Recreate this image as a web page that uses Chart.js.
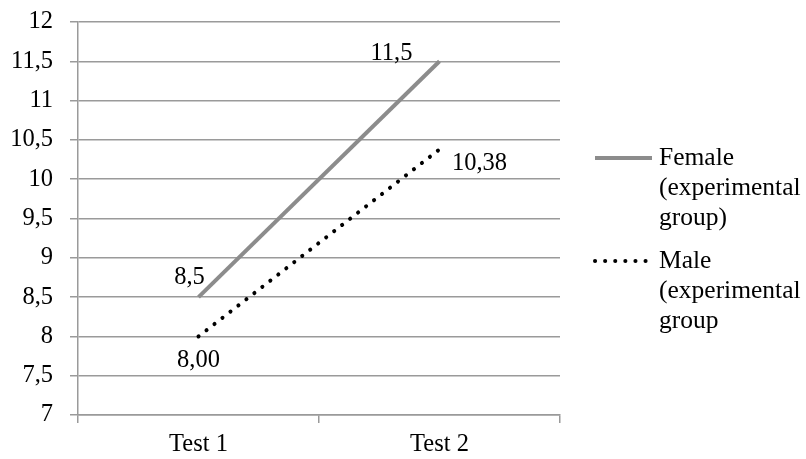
<!DOCTYPE html>
<html>
<head>
<meta charset="utf-8">
<script src="https://cdn.jsdelivr.net/npm/chart.js@4/dist/chart.umd.min.js"></script>
<style>
  html, body { margin: 0; padding: 0; background: #fff; }
  #wrap { width: 806px; height: 459px; }
</style>
</head>
<body>
<div id="wrap"><canvas id="grafico" width="806" height="459"></canvas></div>
<script>
const categorias = ['Test 1', 'Test 2'];
const female = [8.5, 11.5];
const male = [8.00, 10.38];
const nombresSeries = [
  ['Female', '(experimental', 'group)'],
  ['Male', '(experimental', 'group']
];
const yMin = 7;
const yMax = 12;
const yPaso = 0.5;

const fuente = '"Liberation Serif", "Times New Roman", serif';
const gris = '#8c8c8c';
const grisGrid = '#9a9a9a';

const conComa = (v, dec) => (dec == null ? String(v) : v.toFixed(dec)).replace('.', ',');

// etiquetas de valores junto a cada punto
const etiquetasDatos = {
  id: 'etiquetasDatos',
  afterDatasetsDraw(chart) {
    const ctx = chart.ctx;
    const offsets = [
      [[-9, -20], [-48, -8]],
      [[0, 24], [40, 14]]
    ];
    ctx.save();
    ctx.font = '24.5px ' + fuente;
    ctx.fillStyle = '#000';
    ctx.textAlign = 'center';
    ctx.textBaseline = 'middle';
    chart.data.datasets.forEach((ds, i) => {
      const meta = chart.getDatasetMeta(i);
      meta.data.forEach((pt, j) => {
        const txt = i === 0 ? conComa(ds.data[j]) : conComa(ds.data[j], 2);
        ctx.fillText(txt, pt.x + offsets[i][j][0], pt.y + offsets[i][j][1]);
      });
    });
    ctx.restore();
  }
};

// leyenda a la derecha, con texto en varias lineas
const leyenda = {
  id: 'leyenda',
  afterDraw(chart) {
    const ctx = chart.ctx;
    const x0 = 595, x1 = 652, xt = 659;
    const filas = [158, 261];
    ctx.save();
    chart.data.datasets.forEach((ds, i) => {
      const y = filas[i];
      ctx.beginPath();
      ctx.strokeStyle = ds.borderColor;
      ctx.lineWidth = ds.borderWidth;
      ctx.lineCap = i === 0 ? 'butt' : 'round';
      ctx.setLineDash(ds.borderDash || []);
      ctx.moveTo(x0, y);
      ctx.lineTo(x1, y);
      ctx.stroke();
      ctx.setLineDash([]);
      ctx.font = '25.5px ' + fuente;
      ctx.fillStyle = '#000';
      ctx.textAlign = 'left';
      ctx.textBaseline = 'middle';
      nombresSeries[i].forEach((linea, k) => {
        ctx.fillText(linea, xt, y + k * 30);
      });
    });
    ctx.restore();
  }
};

new Chart(document.getElementById('grafico').getContext('2d'), {
  type: 'line',
  data: {
    labels: categorias,
    datasets: [
      {
        label: nombresSeries[0].join(' '),
        data: female,
        borderColor: gris,
        borderWidth: 4,
        pointRadius: 0,
        tension: 0
      },
      {
        label: nombresSeries[1].join(' '),
        data: male,
        borderColor: '#000',
        borderWidth: 4,
        borderDash: [0.1, 10],
        borderCapStyle: 'round',
        pointRadius: 0,
        tension: 0
      }
    ]
  },
  options: {
    responsive: false,
    animation: false,
    layout: { padding: { top: 22, right: 246, bottom: 0, left: 0 } },
    plugins: {
      legend: { display: false },
      tooltip: { enabled: false }
    },
    scales: {
      x: {
        offset: true,
        grid: { offset: true, drawOnChartArea: false, drawTicks: true, tickLength: 8, color: grisGrid, lineWidth: 1.5 },
        border: { display: true, color: grisGrid, width: 1.5 },
        ticks: { color: '#000', padding: 7, font: { family: fuente, size: 24.5 } },
        afterFit: (scale) => { scale.height = 44; }
      },
      y: {
        min: yMin,
        max: yMax,
        ticks: {
          stepSize: yPaso,
          color: '#000',
          padding: 17,
          font: { family: fuente, size: 24.5 },
          callback: (v) => conComa(v)
        },
        grid: { color: grisGrid, lineWidth: 1.5, tickLength: 8 },
        border: { display: true, color: grisGrid, width: 1.5 },
        afterFit: (scale) => {
          scale.width = 78;
          scale.paddingTop = 0;
          scale.paddingBottom = 0;
        }
      }
    }
  },
  plugins: [etiquetasDatos, leyenda]
});
</script>
</body>
</html>
